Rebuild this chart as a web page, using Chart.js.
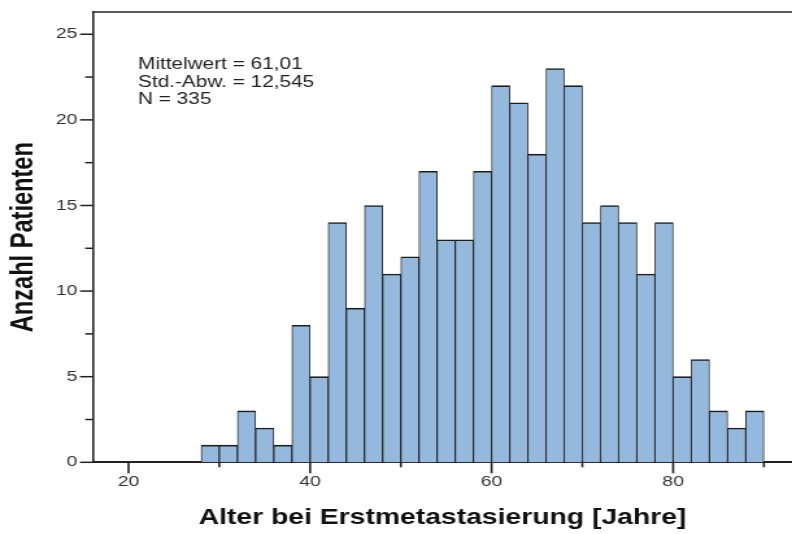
<!DOCTYPE html>
<html>
<head>
<meta charset="utf-8">
<title>Alter bei Erstmetastasierung</title>
<script src="https://cdn.jsdelivr.net/npm/chart.js@4.4.1/dist/chart.umd.min.js"></script>
<style>
  html, body { margin: 0; padding: 0; background: #fff; }
  #wrap { width: 792px; height: 534px; overflow: hidden; }
  /* The source picture is stretched sideways, so draw narrow and widen it. */
  #chart { display: block; transform: scaleX(1.2984); transform-origin: 0 0; }
</style>
</head>
<body>
<div id="wrap">
  <canvas id="chart" width="610" height="534" role="img"
    aria-label="Histogramm: Alter bei Erstmetastasierung, Anzahl Patienten"></canvas>
</div>
<script>
// 2-year bins from 28 to 90
const binCenters = [29, 31, 33, 35, 37, 39, 41, 43, 45, 47, 49, 51, 53, 55, 57, 59,
  61, 63, 65, 67, 69, 71, 73, 75, 77, 79, 81, 83, 85, 87, 89];
const patientCounts = [1, 1, 3, 2, 1, 8, 5, 14, 9, 15, 11, 12, 17, 13, 13, 17,
  22, 21, 18, 23, 22, 14, 15, 14, 11, 14, 5, 6, 3, 2, 3];

const xMajorTicks = [20, 40, 60, 80];
const xMinorTicks = [30, 50, 70, 90];
const yMajorTicks = [0, 5, 10, 15, 20, 25];
const yMinorTicks = [2.5, 7.5, 12.5, 17.5, 22.5];

const statLines = ['Mittelwert = 61,01', 'Std.-Abw. = 12,545', 'N = 335'];

const FONT = '"Liberation Sans", Arial, sans-serif';
const INK = '#222';

/* Tick marks of two lengths, the top frame line and the stats box —
   things the axis options can't do on their own. */
const axisMarks = {
  id: 'axisMarks',
  afterDraw(chart) {
    const { ctx, chartArea, scales: { x, y } } = chart;
    ctx.save();
    ctx.strokeStyle = INK;

    ctx.lineWidth = 1.5;
    ctx.beginPath();
    ctx.moveTo(chartArea.left, chartArea.top);
    ctx.lineTo(chartArea.right, chartArea.top);
    ctx.stroke();

    ctx.lineWidth = 1.6;
    const tickX = (values, len) => values.forEach((v) => {
      const px = x.getPixelForValue(v);
      ctx.beginPath();
      ctx.moveTo(px, chartArea.bottom);
      ctx.lineTo(px, chartArea.bottom + len);
      ctx.stroke();
    });
    tickX(xMajorTicks, 11);
    tickX(xMinorTicks, 5);

    ctx.lineWidth = 1.5;
    const tickY = (values, len) => values.forEach((v) => {
      const py = y.getPixelForValue(v);
      ctx.beginPath();
      ctx.moveTo(chartArea.left - len, py);
      ctx.lineTo(chartArea.left, py);
      ctx.stroke();
    });
    tickY(yMajorTicks, 10);
    tickY(yMinorTicks, 6);

    ctx.fillStyle = INK;
    ctx.font = `16px ${FONT}`;
    ctx.textBaseline = 'alphabetic';
    statLines.forEach((line, i) => {
      ctx.fillText(line, chartArea.left + 34.7, chartArea.top + 57.3 + i * 17.3);
    });
    ctx.restore();
  },
};

new Chart(document.getElementById('chart'), {
  type: 'bar',
  data: {
    datasets: [{
      data: binCenters.map((c, i) => ({ x: c, y: patientCounts[i] })),
      backgroundColor: '#95b9dc',
      borderColor: '#1e1e1e',
      borderWidth: { top: 1.6, left: 0.9, right: 0.9, bottom: 0 },
      borderSkipped: 'start',
      barPercentage: 1,
      categoryPercentage: 1,
    }],
  },
  options: {
    responsive: false,
    animation: false,
    devicePixelRatio: 1,
    layout: { padding: { top: 12, right: 0, bottom: 0, left: 0 } },
    plugins: { legend: { display: false }, tooltip: { enabled: false } },
    scales: {
      x: {
        type: 'linear',
        min: 16.08,
        max: 93.1,
        offset: false,
        grid: { display: false, drawTicks: false, offset: false },
        border: { display: true, color: INK, width: 2 },
        afterBuildTicks: (scale) => {
          scale.ticks = xMajorTicks.map((value) => ({ value }));
        },
        afterFit: (scale) => {
          scale.height = 71.7;
          scale.paddingLeft = 0;
          scale.paddingRight = 0;
        },
        ticks: {
          autoSkip: false,
          maxRotation: 0,
          padding: 11,
          color: '#333',
          font: { family: FONT, size: 15 },
        },
        title: {
          display: true,
          text: 'Alter bei Erstmetastasierung [Jahre]',
          color: '#111',
          font: { family: FONT, size: 21.8, weight: 'bold' },
          padding: { top: 0, bottom: 3 },
        },
      },
      y: {
        min: 0,
        max: 26.3,
        grid: { display: false, drawTicks: false },
        border: { display: true, color: INK, width: 1.6 },
        afterBuildTicks: (scale) => {
          scale.ticks = yMajorTicks.map((value) => ({ value }));
        },
        afterFit: (scale) => {
          scale.width = 71.6;
          scale.paddingTop = 0;
          scale.paddingBottom = 0;
        },
        ticks: {
          padding: 12,
          color: '#333',
          font: { family: FONT, size: 15 },
        },
        title: {
          display: true,
          text: 'Anzahl Patienten',
          color: '#111',
          font: { family: FONT, size: 23.6, weight: 'bold' },
          padding: { top: 4, bottom: 0 },
        },
      },
    },
  },
  plugins: [axisMarks],
});
</script>
</body>
</html>
